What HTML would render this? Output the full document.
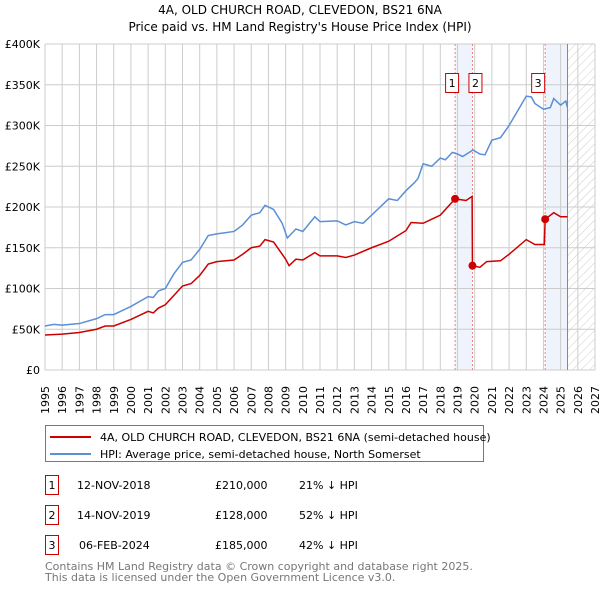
<!DOCTYPE html>
<html><head><meta charset="utf-8"><style>
body{margin:0;background:#fff;font-family:"Liberation Sans","DejaVu Sans",sans-serif;}
svg text{font-family:"DejaVu Sans","Liberation Sans",sans-serif;}
</style></head><body>
<svg id="c" width="600" height="590" xmlns="http://www.w3.org/2000/svg">
<defs><pattern id="hatch" width="6" height="6" patternUnits="userSpaceOnUse" patternTransform="rotate(45)"><line x1="0" y1="0" x2="0" y2="6" stroke="#ccc" stroke-width="1"/></pattern></defs>
<text x="300" y="14" text-anchor="middle" font-size="12">4A, OLD CHURCH ROAD, CLEVEDON, BS21 6NA</text>
<text x="300" y="31" text-anchor="middle" font-size="12">Price paid vs. HM Land Registry's House Price Index (HPI)</text>
<g id="plot"></g>
<g>
<rect x="45.5" y="425.5" width="438" height="36" fill="#fff" stroke="#777"/>
<line x1="50" y1="437" x2="91" y2="437" stroke="#cc0000" stroke-width="2"/>
<text x="100" y="441" font-size="11">4A, OLD CHURCH ROAD, CLEVEDON, BS21 6NA (semi-detached house)</text>
<line x1="50" y1="454" x2="91" y2="454" stroke="#5b8fd6" stroke-width="2"/>
<text x="100" y="458" font-size="11">HPI: Average price, semi-detached house, North Somerset</text>
</g>
<g font-size="11">
<rect x="45.5" y="475.5" width="13" height="19" fill="#fff" stroke="#cc0000"/><text x="52" y="489" text-anchor="middle">1</text>
<text x="77" y="489">12-NOV-2018</text><text x="215" y="489">£210,000</text><text x="299" y="489">21% ↓ HPI</text>
<rect x="45.5" y="505.5" width="13" height="19" fill="#fff" stroke="#cc0000"/><text x="52" y="519" text-anchor="middle">2</text>
<text x="77" y="519">14-NOV-2019</text><text x="215" y="519">£128,000</text><text x="299" y="519">52% ↓ HPI</text>
<rect x="45.5" y="535.5" width="13" height="19" fill="#fff" stroke="#cc0000"/><text x="52" y="549" text-anchor="middle">3</text>
<text x="79" y="549">06-FEB-2024</text><text x="215" y="549">£185,000</text><text x="299" y="549">42% ↓ HPI</text>
</g>
<text x="45" y="570" font-size="11" fill="#777">Contains HM Land Registry data © Crown copyright and database right 2025.</text>
<text x="45" y="581" font-size="11" fill="#777">This data is licensed under the Open Government Licence v3.0.</text>
</svg>
<script>
const yTicks=[0,50,100,150,200,250,300,350,400];
const yTickLabels=["£0","£50K","£100K","£150K","£200K","£250K","£300K","£350K","£400K"];
const years=[1995,1996,1997,1998,1999,2000,2001,2002,2003,2004,2005,2006,2007,2008,2009,2010,2011,2012,2013,2014,2015,2016,2017,2018,2019,2020,2021,2022,2023,2024,2025,2026,2027];
const hpiT=[1995,1995.5,1996,1997,1998,1998.5,1999,2000,2001,2001.3,2001.6,2002,2002.5,2003,2003.5,2004,2004.5,2005,2006,2006.5,2007,2007.5,2007.8,2008.3,2008.8,2009.1,2009.6,2010,2010.7,2011,2012,2012.5,2013,2013.5,2014,2014.5,2015,2015.5,2016,2016.5,2016.7,2017,2017.5,2018,2018.3,2018.7,2019,2019.3,2019.9,2020.3,2020.6,2021,2021.5,2022,2022.5,2023,2023.3,2023.5,2024,2024.4,2024.6,2025,2025.3,2025.4];
const hpiV=[54,56,55,57,63,68,68,78,90,89,97,100,118,132,135,148,165,167,170,178,190,193,202,197,180,162,173,170,188,182,183,178,182,180,190,200,210,208,220,230,235,253,250,260,258,267,265,262,270,265,264,282,285,300,318,336,335,327,320,322,333,325,330,322];
const redT=[1995,1996,1997,1998,1998.5,1999,2000,2001,2001.3,2001.6,2002,2003,2003.5,2004,2004.5,2005,2006,2006.5,2007,2007.5,2007.8,2008.3,2009,2009.2,2009.6,2010,2010.7,2011,2012,2012.5,2013,2014,2015,2016,2016.3,2017,2017.5,2018,2018.86,2019.5,2019.85,2019.87,2020.3,2020.7,2021.5,2022,2023,2023.5,2024.05,2024.1,2024.6,2025,2025.4];
const redV=[43,44,46,50,54,54,62,72,70,76,80,103,106,116,130,133,135,142,150,152,160,157,136,128,136,135,144,140,140,138,141,150,158,171,181,180,185,190,210,208,213,128,126,133,134,142,160,154,154,185,193,188,188];
const saleT=[2018.86,2019.87,2024.1];
const saleV=[210,128,185];
const saleLabels=["1","2","3"];
const X=t=>45+(t-1995)*550/32, Y=v=>370-v*326/400;
const NS="http://www.w3.org/2000/svg", g=document.getElementById('plot');
function mk(tag,at,p){const e=document.createElementNS(NS,tag);for(const k in at)e.setAttribute(k,at[k]);(p||g).appendChild(e);return e;}
// shading
const shades=[[saleT[0],saleT[1]],[saleT[2],2025.4]];
shades.forEach(s=>{const r=mk('rect',{x:X(s[0]),y:44,width:X(s[1])-X(s[0]),height:326,fill:'#eef3fc'});

});
const h=mk('rect',{x:X(2025.4),y:44,width:X(2027)-X(2025.4),height:326,fill:'url(#hatch)'});


years.forEach(y=>{const l=mk('line',{x1:X(y),x2:X(y),y1:44,y2:370,stroke:'#ccc'});


const t=mk('text',{x:0,y:0,'font-size':11,transform:`translate(${X(y)+4},${414}) rotate(-90)`});t.textContent=y;

});
yTicks.forEach((v,i)=>{const l=mk('line',{x1:45,x2:595,y1:Y(v),y2:Y(v),stroke:'#ccc'});


const t=mk('text',{x:40,y:Y(v)+4,'font-size':11,'text-anchor':'end'});t.textContent=yTickLabels[i];

});
const nl=mk('line',{x1:X(2025.4),x2:X(2025.4),y1:44,y2:370,stroke:'#888'});


saleT.forEach(t=>{const l=mk('line',{x1:X(t),x2:X(t),y1:44,y2:370,stroke:'#f08080','stroke-dasharray':'2,2'});

});
const hp=mk('polyline',{points:hpiT.map((t,i)=>X(t)+','+Y(hpiV[i])).join(' '),fill:'none',stroke:'#5b8fd6','stroke-width':1.5});


const rp=mk('polyline',{points:redT.map((t,i)=>X(t)+','+Y(redV[i])).join(' '),fill:'none',stroke:'#cc0000','stroke-width':1.5});


saleT.forEach((t,i)=>{const c=mk('circle',{cx:X(t),cy:Y(saleV[i]),r:4,fill:'#cc0000'});


const bx=i==2?X(t)-14:(i==0?X(t)-10:X(t)-4);
const r=mk('rect',{x:bx+0.5,y:73.5,width:13,height:19,fill:'#fff',stroke:'#cc0000'});


const tx=mk('text',{x:bx+7,y:87,'font-size':11,'text-anchor':'middle'});tx.textContent=saleLabels[i];

});
</script>
</body></html>
